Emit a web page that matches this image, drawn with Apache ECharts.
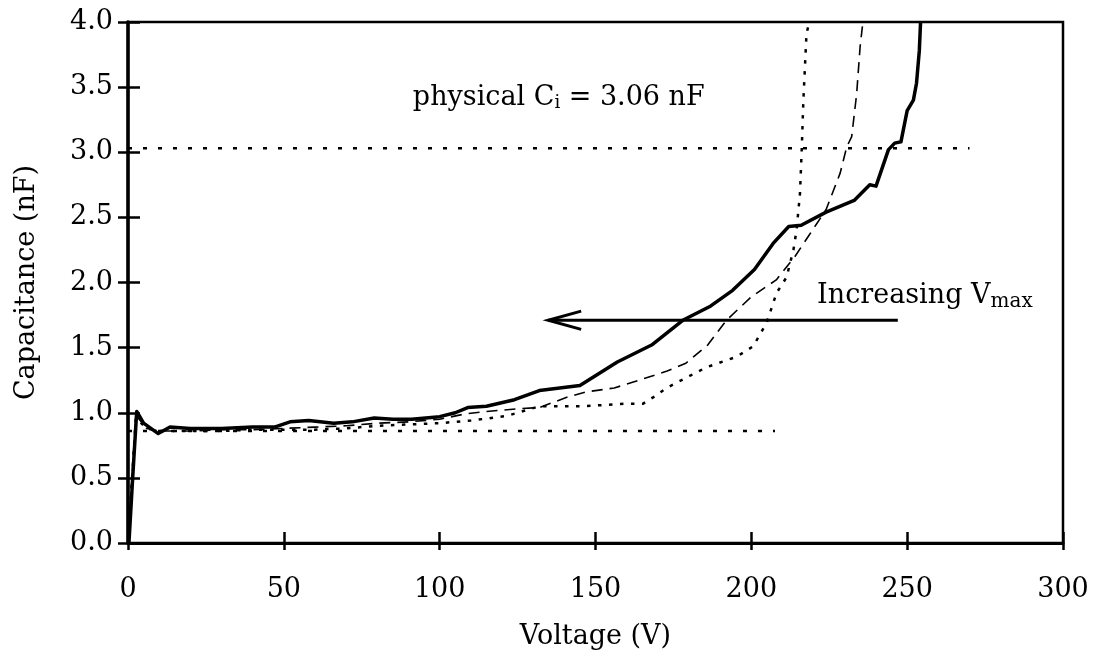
<!DOCTYPE html>
<html>
<head>
<meta charset="utf-8">
<script src="https://cdn.jsdelivr.net/npm/echarts@6/dist/echarts.min.js"></script>
<style>html,body{margin:0;padding:0;background:#fff;}#c{width:1098px;height:662px;}</style>
</head>
<body>
<div id="c"></div>
<script>
// ---- data ----
const xTicks = [0, 50, 100, 150, 200, 250, 300];
const yTicks = [0.0, 0.5, 1.0, 1.5, 2.0, 2.5, 3.0, 3.5, 4.0];

const solidV = [0.3, 1.5, 2.8, 5, 9.7, 13.5, 20, 30, 40, 47, 52, 58, 66, 72, 79, 85, 91, 100, 105, 109, 115, 124, 132, 145, 157, 168, 178, 187, 194, 201, 207, 212, 216, 224, 233, 238, 240, 244, 246, 248, 250, 252, 253, 253.9, 254.3];
const solidC = [0, 0.5, 1.01, 0.92, 0.84, 0.89, 0.88, 0.88, 0.89, 0.89, 0.93, 0.94, 0.92, 0.93, 0.96, 0.95, 0.95, 0.97, 1.00, 1.04, 1.05, 1.10, 1.17, 1.21, 1.39, 1.52, 1.71, 1.82, 1.94, 2.10, 2.30, 2.43, 2.44, 2.54, 2.63, 2.75, 2.74, 3.02, 3.07, 3.08, 3.32, 3.40, 3.53, 3.78, 4.0];

const dashV = [0, 2.5, 6, 10, 20, 30, 40, 50, 60, 70, 80, 90, 100, 108, 115, 125, 132, 141, 147, 156, 164, 173, 179, 186, 192, 200, 208, 214, 219, 224, 228.5, 230.6, 232.2, 233.8, 234.9, 235.8];
const dashC = [0, 0.98, 0.88, 0.86, 0.86, 0.87, 0.87, 0.88, 0.89, 0.90, 0.92, 0.93, 0.95, 0.99, 1.01, 1.03, 1.04, 1.12, 1.16, 1.19, 1.25, 1.32, 1.38, 1.52, 1.71, 1.89, 2.02, 2.20, 2.38, 2.56, 2.84, 3.04, 3.12, 3.45, 3.81, 4.0];

const dotV = [0, 2.5, 6, 10, 20, 30, 40, 50, 60, 70, 80, 90, 100, 110, 121.5, 132, 146, 160, 165.3, 168.6, 172.8, 182.4, 185.7, 195.3, 200.6, 204.9, 208.1, 211.3, 213.5, 214.5, 215.6, 216.2, 216.7, 217.7, 218.6];
const dotC = [0, 0.96, 0.88, 0.86, 0.86, 0.86, 0.87, 0.87, 0.87, 0.88, 0.90, 0.91, 0.92, 0.94, 0.975, 1.05, 1.05, 1.07, 1.07, 1.12, 1.19, 1.31, 1.35, 1.43, 1.51, 1.69, 1.92, 2.04, 2.25, 2.40, 2.68, 3.04, 3.40, 3.91, 4.0];

const physRefV = [0, 270];
const physRefC = [3.03, 3.03];
const baseRefV = [0, 207.6];
const baseRefC = [0.86, 0.86];

const arrowShaftV = [247, 134.8];
const arrowShaftC = [1.71, 1.71];
const arrowHeadV = [145.4, 134.8, 145.4];
const arrowHeadC = [1.78, 1.71, 1.64];

const labelPhys = {v: 91.4, c: 3.42};
const labelIncr = {v: 221.1, c: 1.90};

// ---- chart ----
const zip = (a, b) => a.map((v, i) => [v, b[i]]);
const FONT = 'DejaVu Serif';
const FS = 27;
const grid = {left: 128, right: 35, top: 22, bottom: 119, containLabel: false, outerBoundsMode: 'none'};

const chart = echarts.init(document.getElementById('c'), null, {renderer: 'canvas'});
chart.setOption({
  backgroundColor: '#fff',
  animation: false,
  textStyle: {fontFamily: FONT, color: '#000'},
  grid: [
    Object.assign({show: true, borderColor: '#000', borderWidth: 2.5, backgroundColor: 'transparent'}, grid),
    Object.assign({show: false}, grid)
  ],
  xAxis: [
    {
      type: 'value', gridIndex: 0, min: 0, max: 300, interval: 50,
      name: 'Voltage (V)', nameLocation: 'middle', nameGap: 80,
      nameTextStyle: {fontFamily: FONT, fontSize: FS, color: '#000'},
      axisLine: {show: true, onZero: false, lineStyle: {color: '#000', width: 3}},
      axisTick: {show: true, inside: false, length: 7, lineStyle: {color: '#000', width: 2.5}},
      axisLabel: {margin: 33, fontFamily: FONT, fontSize: FS, color: '#000',
        formatter: v => xTicks.includes(v) ? String(v) : ''},
      splitLine: {show: false}
    },
    {
      type: 'value', gridIndex: 1, min: 0, max: 300, interval: 50,
      axisLine: {show: false},
      axisTick: {show: true, inside: true, length: 11, lineStyle: {color: '#000', width: 2.5}},
      axisLabel: {show: false}, splitLine: {show: false}
    }
  ],
  yAxis: [
    {
      type: 'value', gridIndex: 0, min: 0, max: 4, interval: 0.5,
      name: 'Capacitance (nF)', nameLocation: 'middle', nameGap: 88, nameRotate: 90,
      nameTextStyle: {fontFamily: FONT, fontSize: FS, color: '#000'},
      axisLine: {show: true, onZero: false, lineStyle: {color: '#000', width: 3.5}},
      axisTick: {show: true, inside: false, length: 10, lineStyle: {color: '#000', width: 2.5}},
      axisLabel: {margin: 15, fontFamily: FONT, fontSize: FS, color: '#000',
        formatter: v => { const t = yTicks.find(y => Math.abs(y - v) < 1e-9); return t === undefined ? '' : t.toFixed(1); }},
      splitLine: {show: false}
    },
    {
      type: 'value', gridIndex: 1, min: 0, max: 4, interval: 0.5,
      axisLine: {show: false},
      axisTick: {show: true, inside: true, length: 12, lineStyle: {color: '#000', width: 2.5}},
      axisLabel: {show: false}, splitLine: {show: false}
    }
  ],
  series: [
    {
      type: 'line', xAxisIndex: 0, yAxisIndex: 0, data: zip(physRefV, physRefC),
      symbol: 'none', silent: true,
      lineStyle: {color: '#000', width: 2.5, type: [4, 11]}
    },
    {
      type: 'line', xAxisIndex: 0, yAxisIndex: 0, data: zip(baseRefV, baseRefC),
      symbol: 'none', silent: true,
      lineStyle: {color: '#000', width: 2.5, type: [4, 11]}
    },
    {
      type: 'line', xAxisIndex: 0, yAxisIndex: 0, data: zip(dotV, dotC),
      symbol: 'none', silent: true,
      lineStyle: {color: '#000', width: 2.5, type: [3.5, 7.5]}
    },
    {
      type: 'line', xAxisIndex: 0, yAxisIndex: 0, data: zip(dashV, dashC),
      symbol: 'none', silent: true,
      lineStyle: {color: '#000', width: 1.6, type: [11, 7]}
    },
    {
      type: 'line', xAxisIndex: 0, yAxisIndex: 0, data: zip(solidV, solidC),
      symbol: 'none', silent: true,
      lineStyle: {color: '#000', width: 3.5, join: 'round'}
    },
    {
      type: 'line', xAxisIndex: 0, yAxisIndex: 0, data: zip(arrowShaftV, arrowShaftC),
      symbol: 'none', silent: true,
      lineStyle: {color: '#000', width: 3}
    },
    {
      type: 'line', xAxisIndex: 0, yAxisIndex: 0, data: zip(arrowHeadV, arrowHeadC),
      symbol: 'none', silent: true,
      lineStyle: {color: '#000', width: 3, join: 'miter'}
    },
    {
      type: 'scatter', xAxisIndex: 0, yAxisIndex: 0, silent: true,
      symbolSize: 0, itemStyle: {opacity: 1},
      data: [[labelPhys.v, labelPhys.c]],
      label: {
        show: true, position: 'right', distance: 0, color: '#000', opacity: 1,
        formatter: '{a|physical C}{s|i}{a| = 3.06 nF}',
        rich: {
          a: {fontFamily: FONT, fontSize: FS, color: '#000'},
          s: {fontFamily: FONT, fontSize: 18, color: '#000', padding: [12, 0, 0, 0]}
        }
      }
    },
    {
      type: 'scatter', xAxisIndex: 0, yAxisIndex: 0, silent: true,
      symbolSize: 0, itemStyle: {opacity: 1},
      data: [[labelIncr.v, labelIncr.c]],
      label: {
        show: true, position: 'right', distance: 0, color: '#000', opacity: 1,
        formatter: '{a|Increasing V}{s|max}',
        rich: {
          a: {fontFamily: FONT, fontSize: FS, color: '#000'},
          s: {fontFamily: FONT, fontSize: 20, color: '#000', padding: [12, 0, 0, 0]}
        }
      }
    }
  ]
});
</script>
</body>
</html>
